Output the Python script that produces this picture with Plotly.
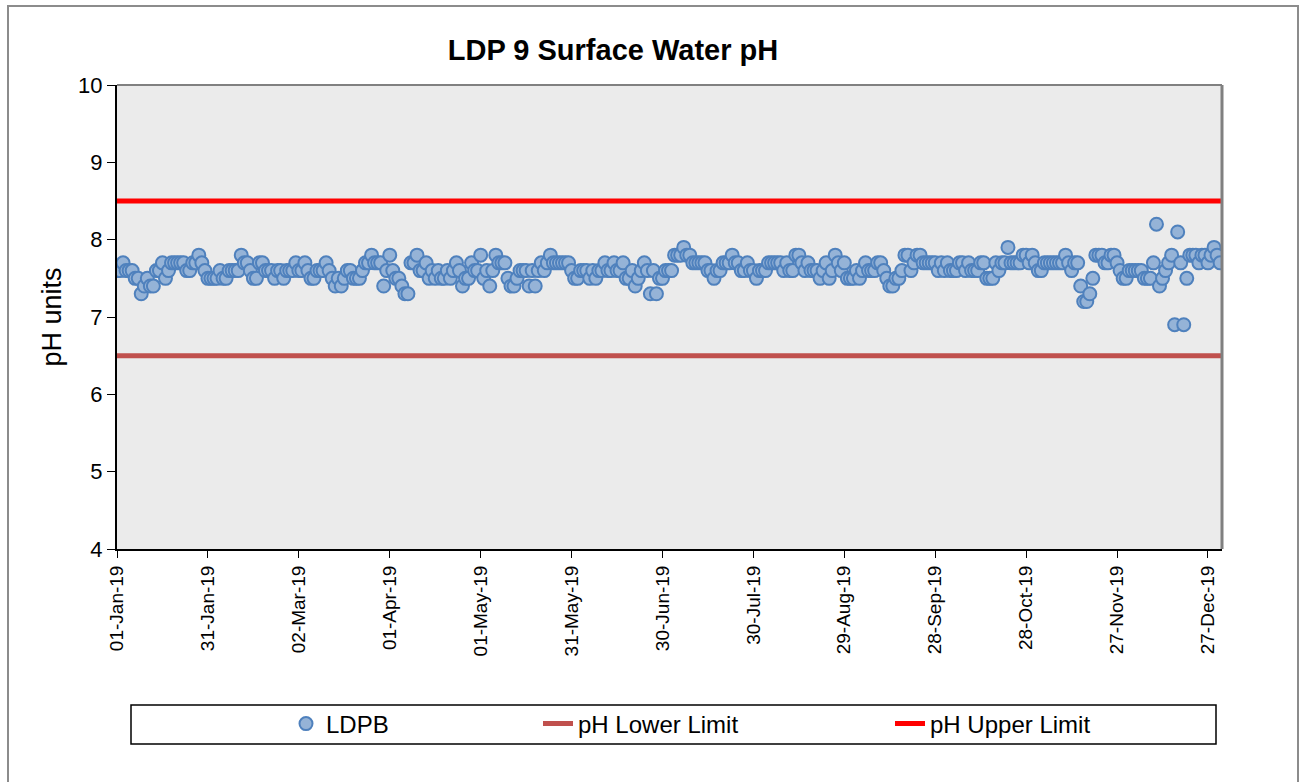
import datetime as dt
import plotly.graph_objects as go

# ---------------- data (daily pH readings, 2019) ----------------
jan = [7.6, 7.6, 7.7, 7.6, 7.6, 7.6, 7.5, 7.5, 7.3, 7.4, 7.5, 7.4, 7.4, 7.6, 7.6, 7.7,
       7.5, 7.6, 7.7, 7.7, 7.7, 7.7, 7.7, 7.6, 7.6, 7.7, 7.7, 7.8, 7.7, 7.6, 7.5]
feb = [7.5, 7.5, 7.5, 7.6, 7.5, 7.5, 7.6, 7.6, 7.6, 7.6, 7.8, 7.7, 7.7, 7.6, 7.5, 7.5,
       7.7, 7.7, 7.6, 7.6, 7.6, 7.5, 7.6, 7.6, 7.5, 7.6, 7.6, 7.6]
mar = [7.7, 7.6, 7.6, 7.7, 7.6, 7.5, 7.5, 7.6, 7.6, 7.6, 7.7, 7.6, 7.5, 7.4, 7.5, 7.4,
       7.5, 7.6, 7.6, 7.5, 7.5, 7.5, 7.6, 7.7, 7.7, 7.8, 7.7, 7.7, 7.7, 7.4, 7.6]
apr = [7.8, 7.6, 7.5, 7.5, 7.4, 7.3, 7.3, 7.7, 7.7, 7.8, 7.6, 7.6, 7.7, 7.5, 7.6, 7.5,
       7.6, 7.5, 7.5, 7.6, 7.5, 7.6, 7.7, 7.6, 7.4, 7.5, 7.5, 7.7, 7.6, 7.6]
may = [7.8, 7.5, 7.6, 7.4, 7.6, 7.8, 7.7, 7.7, 7.7, 7.5, 7.4, 7.4, 7.5, 7.6, 7.6, 7.6,
       7.4, 7.6, 7.4, 7.6, 7.7, 7.6, 7.7, 7.8, 7.7, 7.7, 7.7, 7.7, 7.7, 7.7, 7.6]
jun = [7.5, 7.5, 7.6, 7.6, 7.6, 7.5, 7.6, 7.5, 7.6, 7.6, 7.7, 7.6, 7.6, 7.7, 7.6, 7.6,
       7.7, 7.5, 7.5, 7.6, 7.4, 7.5, 7.6, 7.7, 7.6, 7.3, 7.6, 7.3, 7.5, 7.5]
jul = [7.6, 7.6, 7.6, 7.8, 7.8, 7.8, 7.9, 7.8, 7.8, 7.7, 7.7, 7.7, 7.7, 7.7, 7.6, 7.6,
       7.5, 7.6, 7.6, 7.7, 7.7, 7.7, 7.8, 7.7, 7.7, 7.6, 7.6, 7.7, 7.6, 7.6, 7.5]
aug = [7.6, 7.6, 7.6, 7.7, 7.7, 7.7, 7.7, 7.7, 7.6, 7.7, 7.6, 7.6, 7.8, 7.8, 7.7, 7.6,
       7.7, 7.6, 7.6, 7.6, 7.5, 7.6, 7.7, 7.5, 7.6, 7.8, 7.7, 7.6, 7.7, 7.5, 7.5]
sep = [7.5, 7.6, 7.5, 7.6, 7.7, 7.6, 7.6, 7.6, 7.7, 7.7, 7.6, 7.5, 7.4, 7.4, 7.5, 7.5,
       7.6, 7.8, 7.8, 7.6, 7.7, 7.8, 7.8, 7.7, 7.7, 7.7, 7.7, 7.7, 7.6, 7.7]
oct_ = [7.6, 7.7, 7.6, 7.6, 7.6, 7.7, 7.7, 7.6, 7.7, 7.6, 7.6, 7.6, 7.7, 7.7, 7.5, 7.5,
        7.5, 7.7, 7.6, 7.7, 7.7, 7.9, 7.7, 7.7, 7.7, 7.7, 7.8, 7.8, 7.7, 7.8, 7.7]
nov = [7.6, 7.6, 7.7, 7.7, 7.7, 7.7, 7.7, 7.7, 7.7, 7.8, 7.7, 7.6, 7.7, 7.7, 7.4, 7.2,
       7.2, 7.3, 7.5, 7.8, 7.8, 7.8, 7.7, 7.7, 7.8, 7.8, 7.7, 7.6, 7.5, 7.5]
dec = [7.6, 7.6, 7.6, 7.6, 7.6, 7.5, 7.5, 7.5, 7.7, 8.2, 7.4, 7.5, 7.6, 7.7, 7.8, 6.9,
       8.1, 7.7, 6.9, 7.5, 7.8, 7.8, 7.8, 7.7, 7.8, 7.8, 7.7, 7.8, 7.9, 7.8, 7.7]

months = [jan, feb, mar, apr, may, jun, jul, aug, sep, oct_, nov, dec]

lower_limit = 6.5
upper_limit = 8.5

title_text = "LDP 9 Surface Water pH"
y_title = "pH units"
series_name = "LDPB"
lower_name = "pH Lower Limit"
upper_name = "pH Upper Limit"

# ---------------- build dates from months ----------------
dates, values = [], []
for m, vals in enumerate(months, start=1):
    for d, v in enumerate(vals, start=1):
        dates.append(dt.datetime(2019, m, d))
        values.append(v)

x_start = dt.datetime(2019, 1, 1)
x_end = dt.datetime(2019, 12, 31, 15, 0)

FONT = "Liberation Sans Narrow, Arial Narrow, Liberation Sans, Arial, sans-serif"
BOLD = "Liberation Sans, Arial, sans-serif"

fig = go.Figure()

fig.add_trace(go.Scatter(
    x=dates, y=values, mode="markers", name=series_name, showlegend=True,
    marker=dict(size=13, color="#95B3D7", line=dict(color="#4F81BD", width=2)),
    legend="legend",
))
fig.add_trace(go.Scatter(
    x=[x_start, x_end], y=[lower_limit, lower_limit], mode="lines", name=lower_name,
    showlegend=True, line=dict(color="#C0504D", width=5), legend="legend2",
))
fig.add_trace(go.Scatter(
    x=[x_start, x_end], y=[upper_limit, upper_limit], mode="lines", name=upper_name,
    showlegend=True, line=dict(color="#FF0000", width=5), legend="legend3",
))

W, H = 1306, 782
L, R, T, B = 117, 84, 85, 233
pw, ph = W - L - R, H - T - B


def px(xp):
    return (xp - L) / pw


def py(yp):
    return (H - B - yp) / ph


leg_common = dict(orientation="h", yanchor="middle", xanchor="left",
                  bgcolor="rgba(0,0,0,0)", font=dict(family=FONT, size=24, color="#000"),
                  itemwidth=30)

fig.update_layout(
    width=W, height=H,
    margin=dict(l=L, r=R, t=T, b=B),
    paper_bgcolor="white",
    plot_bgcolor="#EBEBEB",
    showlegend=True,
    title=dict(text="<b>" + title_text + "</b>", x=px(613), xref="paper", xanchor="center",
               y=1 - 50 / H, yref="container", yanchor="middle",
               font=dict(family=BOLD, size=29, color="#000")),
    xaxis=dict(
        type="date", range=[x_start, x_end],
        tick0="2019-01-01", dtick=30 * 86400000, tickformat="%d-%b-%y",
        tickangle=-90, ticks="outside", ticklen=7, tickcolor="#000",
        showline=True, linecolor="#000", linewidth=2, showgrid=False, zeroline=False,
        tickfont=dict(family=FONT, size=19, color="#000"),
    ),
    yaxis=dict(
        range=[4, 10], dtick=1, ticks="outside", ticklen=8, tickcolor="#000",
        showline=True, linecolor="#000", linewidth=2, showgrid=False, zeroline=False,
        tickfont=dict(family=FONT, size=22, color="#000"),
        title=dict(text=y_title, font=dict(family=BOLD, size=27, color="#000"), standoff=9),
    ),
    legend=dict(leg_common, x=px(286), y=py(724)),
    legend2=dict(leg_common, x=px(538), y=py(724)),
    legend3=dict(leg_common, x=px(890), y=py(724)),
    shapes=[
        # plot area border (top/right grey)
        dict(type="line", xref="paper", yref="paper", x0=0, x1=1, y0=1, y1=1,
             line=dict(color="#808080", width=2)),
        dict(type="line", xref="paper", yref="paper", x0=1, x1=1, y0=0, y1=1,
             line=dict(color="#808080", width=3)),
        # outer chart frame
        dict(type="rect", xref="paper", yref="paper", x0=px(8), x1=px(1298),
             y0=py(800), y1=py(6), line=dict(color="#8C8C8C", width=2), layer="below"),
        # legend box
        dict(type="rect", xref="paper", yref="paper", x0=px(131), x1=px(1216),
             y0=py(744), y1=py(705), line=dict(color="#000", width=1.5)),
    ],
)

fig.write_html("out.html", config={"displayModeBar": False},
               post_script="document.body.style.margin='0';document.body.style.padding='0';")
